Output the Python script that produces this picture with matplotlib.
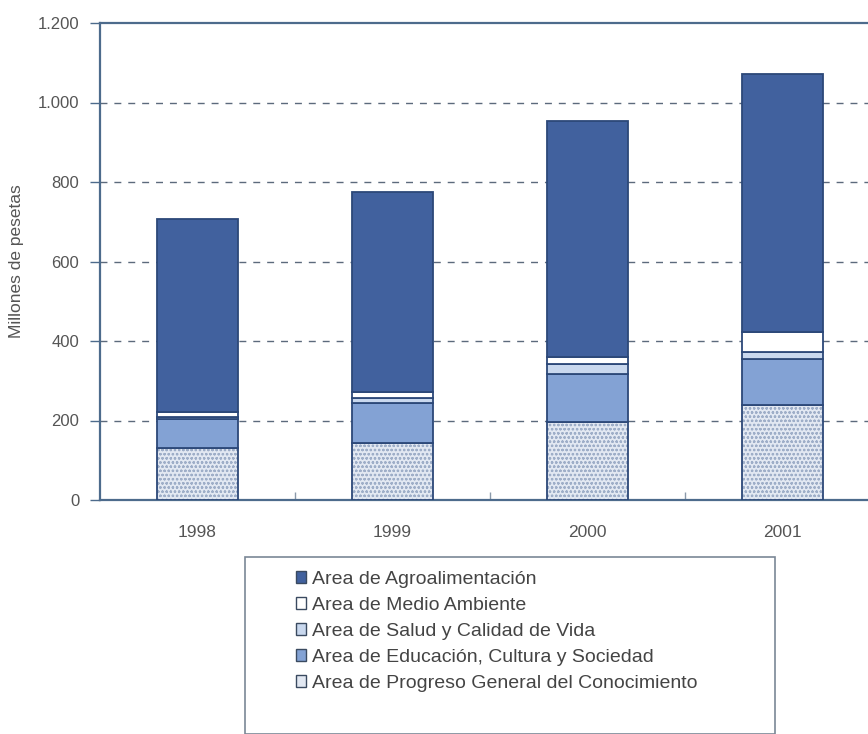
import matplotlib
matplotlib.use("Agg")
import matplotlib.pyplot as plt
from matplotlib.patches import Rectangle, Patch
import numpy as np

plt.rcParams['font.family'] = ['Liberation Sans', 'DejaVu Sans']
plt.rcParams['hatch.linewidth'] = 0.6

# data (millones de pesetas)
years = ["1998", "1999", "2000", "2001"]
progreso = [131, 143, 196, 239]
educacion = [73, 102, 120, 116]
salud = [5, 12, 25, 18]
medio = [12, 15, 19, 50]
agro = [486, 503, 593, 649]

series = [
    ("Area de Progreso General del Conocimiento", progreso, "#e2e8f2", "oooo"),
    ("Area de Educación, Cultura y Sociedad", educacion, "#83a2d4", None),
    ("Area de Salud y Calidad de Vida", salud, "#c9d8ee", None),
    ("Area de Medio Ambiente", medio, "#ffffff", None),
    ("Area de Agroalimentación", agro, "#41619e", None),
]

edge = "#2c4878"
axcol = "#4d6b8c"
txtcol = "#555555"

fig = plt.figure(figsize=(8.68, 7.34), dpi=100)
W, H = 868.0, 734.0
ax = fig.add_axes([100 / W, (H - 500) / H, 780 / W, 477 / H])

x = np.arange(len(years))
bottom = np.zeros(len(years))
handles = []
for name, vals, col, hatch in series:
    if hatch:
        # hatch drawn in a lighter colour, outline drawn on top
        ax.bar(x, vals, 0.42, bottom=bottom, color=col, edgecolor="#9eaec8",
               linewidth=0, hatch=hatch, zorder=3)
        ax.bar(x, vals, 0.42, bottom=bottom, fill=False, edgecolor=edge,
               linewidth=1.3, zorder=3)
    else:
        ax.bar(x, vals, 0.42, bottom=bottom, color=col, edgecolor=edge,
               linewidth=1.3, zorder=3)
    bottom += np.array(vals)
    handles.append(Patch(facecolor=col, edgecolor="#3a4a60", linewidth=1.0, label=name))

ax.set_xlim(-0.5, 3.5)
ax.set_ylim(0, 1200)
ax.set_yticks(range(0, 1201, 200))
ax.set_yticklabels(["0", "200", "400", "600", "800", "1.000", "1.200"])
for v in range(200, 1001, 200):
    ax.axhline(v, color="#5c6a7c", lw=1.0, dashes=(5, 5), zorder=1)

ax.set_xticks([0.5, 1.5, 2.5])
ax.set_xticklabels([])
ax.set_xticks(x, minor=True)
ax.set_xticklabels(years, minor=True)
ax.tick_params(axis="x", which="minor", length=0, pad=18, labelsize=12.5, labelcolor=txtcol)
ax.tick_params(axis="x", which="major", length=6, width=1, color="#8a99aa", direction="in")
ax.tick_params(axis="y", length=7, width=1, color=axcol, labelsize=12, labelcolor=txtcol, pad=8)

for s in ["left", "bottom", "top"]:
    ax.spines[s].set_color(axcol)
    ax.spines[s].set_linewidth(1.6)
ax.spines["right"].set_visible(False)

ax.set_ylabel("Millones de pesetas", fontsize=12.5, color=txtcol, labelpad=10)

# legend box
fig.patches.append(Rectangle((245 / W, 0.0), 530 / W, (H - 557) / H,
                             transform=fig.transFigure, facecolor="white",
                             edgecolor="#7a8796", linewidth=1.2))
leg = fig.legend(handles=handles[::-1], loc="upper left",
                 bbox_to_anchor=(288 / W, (H - 563) / H), frameon=False,
                 fontsize=14, handlelength=0.55, handleheight=0.55,
                 handletextpad=0.3, labelspacing=0.46, borderaxespad=0)
for t in leg.get_texts():
    t.set_color("#444444")

fig.savefig("out.png", dpi=100)
